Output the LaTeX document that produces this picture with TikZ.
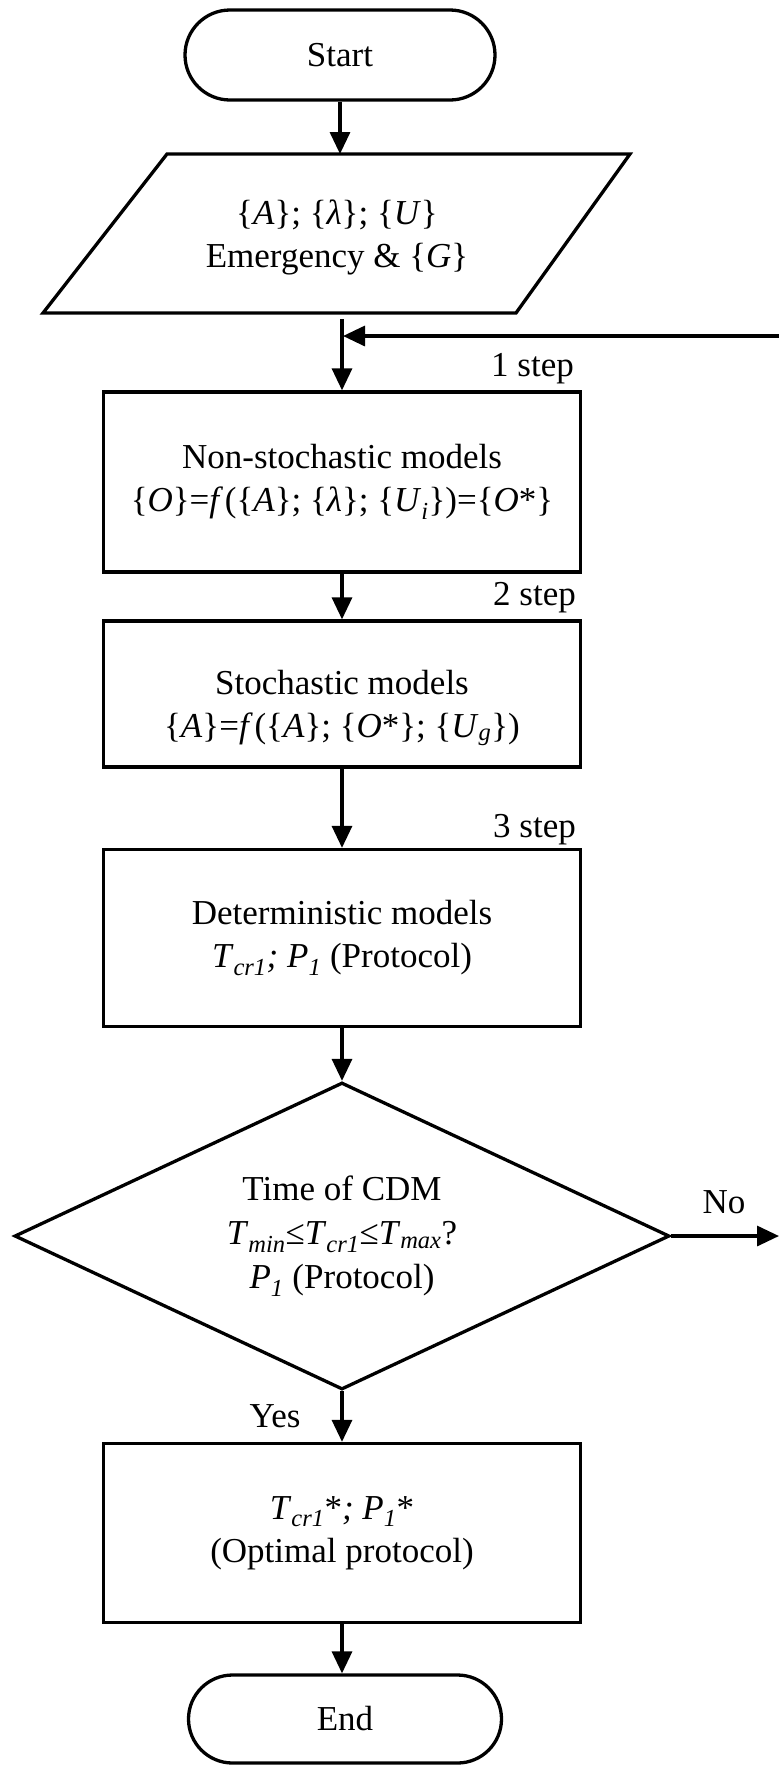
\documentclass[tikz,border=0pt]{standalone}
\usepackage{fontspec}
\setmainfont{Liberation Serif}
\usetikzlibrary{arrows.meta,shapes.misc,shapes.geometric}
\newcommand{\sbs}[1]{\textsubscript{\textit{#1}}}
\begin{document}
\begin{tikzpicture}[x=1pt,y=-1pt,
  lw/.style={line width=3.3pt},
  box/.style={draw,lw,rectangle,inner sep=0pt,minimum width=477pt,align=center,font=\fontsize{35}{43}\selectfont},
  term/.style={draw,lw,rounded rectangle,inner sep=0pt,minimum width=310pt,minimum height=90pt,font=\fontsize{35}{43}\selectfont},
  txt/.style={align=center,font=\fontsize{35}{43}\selectfont,inner sep=0pt},
  arr/.style={lw,-{Triangle[length=22pt,width=20pt]}}]
\useasboundingbox (0,0) rectangle (779,1765);
\fill[white] (0,0) rectangle (779,1765);
% Start
\node[term] (start) at (340,55) {Start};
% input parallelogram
\draw[lw,line join=miter] (167,154) -- (630,154) -- (516,313) -- (43,313) -- cycle;
\coordinate (in-n) at (340,154);
\coordinate (in-s) at (342,319);
\node[txt] (in) at (337,237) {\{\textit{A}\}; \{\textit{λ}\}; \{\textit{U}\}\\Emergency \& \{\textit{G}\}};
% boxes
\node[box,minimum height=180pt] (b1) at (342,482) {Non-stochastic models\\\{\textit{O}\}=\textit{f\,}(\{\textit{A}\}; \{\textit{λ}\}; \{\textit{U}\sbs{i}\})=\{\textit{O}*\}};
\node[box,minimum height=146pt] (b2) at (342,694) {};
\node[txt] (b2t) at (342,708) {Stochastic models\\\{\textit{A}\}=\textit{f\,}(\{\textit{A}\}; \{\textit{O}*\}; \{\textit{U}\sbs{g}\})};
\node[box,minimum height=177pt] (b3) at (342,938) {Deterministic models\\\textit{T}\sbs{cr1}\textit{;} \textit{P}\sbs{1} (Protocol)};
\node[draw,lw,diamond,aspect=2.13,minimum width=655pt,minimum height=307pt,inner sep=0pt,align=center,font=\fontsize{35}{44}\selectfont] (dia) at (342,1236) {Time of CDM\\\textit{T}\sbs{min}≤\textit{T}\sbs{cr1}≤\textit{T}\sbs{max}?\\\textit{P}\sbs{1} (Protocol)};
\node[box,minimum height=179pt] (b4) at (342,1533) {\textit{T}\sbs{cr1}*\textit{; P}\sbs{1}*\\(Optimal protocol)};
\node[term,minimum width=313pt,minimum height=88pt] (end) at (345,1719) {End};
% step labels
\node[txt,anchor=east] (s1) at (574,369) {1 step};
\node[txt,anchor=east] (s2) at (576,598) {2 step};
\node[txt,anchor=east] (s3) at (576,830) {3 step};
% connectors
\draw[arr] (start) -- (in-n);
\draw[arr] (in-s) -- (in-s |- b1.north);
\coordinate (fb) at (781,336);
\coordinate (fbj) at (343,336);
\draw[arr] (fb) -- (fbj);
\draw[arr] (b1.south) -- (b2.north);
\draw[arr] (b2.south) -- (b3.north);
\draw[arr] (b3.south) -- (dia.north);
\coordinate (noend) at (779,1236);
\draw[arr] (dia.east) -- (noend);
\node[txt] (no) at (724,1202) {No};
\draw[arr] (dia.south) -- (b4.north);
\node[txt] (yes) at (275,1416) {Yes};
\draw[arr] (b4.south) -- (b4.south |- end.north);
\end{tikzpicture}
\end{document}
